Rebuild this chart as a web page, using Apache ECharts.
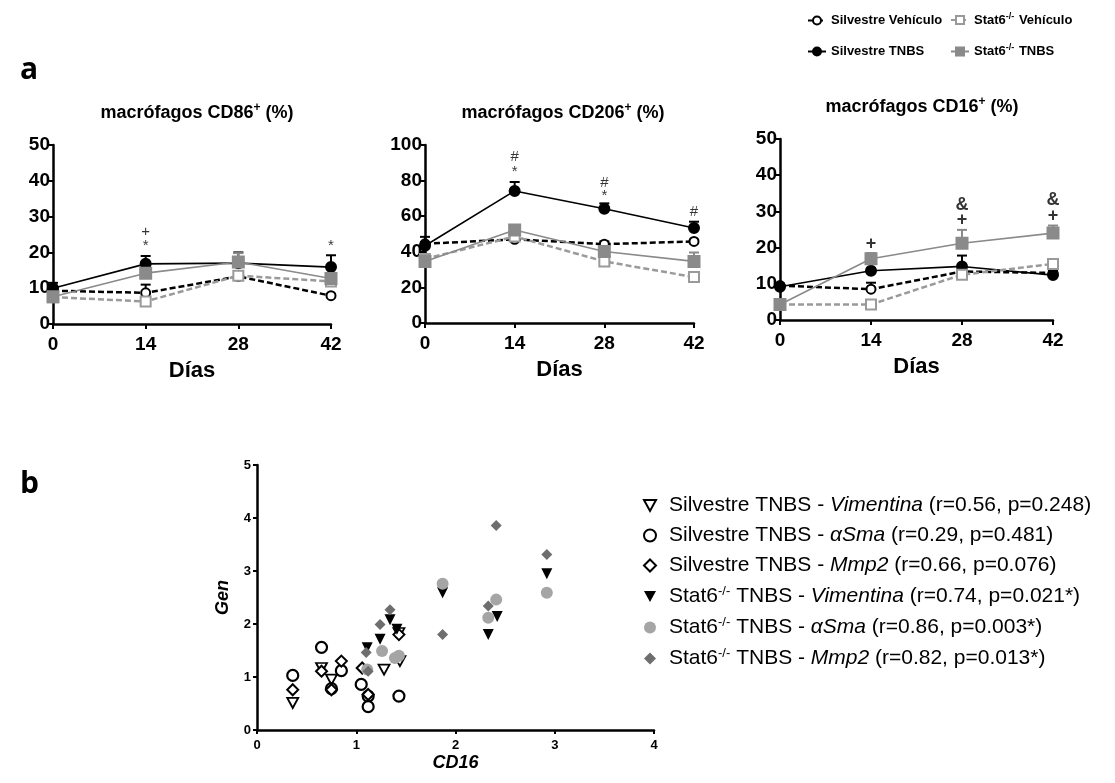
<!DOCTYPE html>
<html>
<head>
<meta charset="utf-8">
<script src="https://cdn.jsdelivr.net/npm/echarts@6/dist/echarts.min.js"></script>
<style>html,body{margin:0;padding:0;background:#fff;}#c{width:1115px;height:783px;}</style>
</head>
<body>
<div id="c"></div>
<script>
// ---------- DATA ----------
const days = [0, 14, 28, 42];
const xTicks = [0, 14, 28, 42];
const seriesNames = ['Silvestre Vehículo', 'Silvestre TNBS', 'Stat6 Vehículo', 'Stat6 TNBS'];

// Panel 1: CD86
const cd86_silvVeh = [9.3, 8.7, 13.3, 7.9];
const cd86_silvVeh_sem = [1.0, 2.3, 0.8, 0.5];
const cd86_silvTnbs = [10.0, 16.8, 17.0, 15.9];
const cd86_silvTnbs_sem = [1.5, 2.2, 3.0, 3.3];
const cd86_stat6Veh = [7.5, 6.3, 13.5, 11.9];
const cd86_stat6Veh_sem = [0.5, 0.5, 0.8, 1.0];
const cd86_stat6Tnbs = [7.6, 14.2, 17.3, 12.7];
const cd86_stat6Tnbs_sem = [1.0, 1.0, 2.5, 1.5];
const cd86_marks = [[14, 25.7, '+'], [14, 21.9, '*'], [42, 21.9, '*']];

// Panel 2: CD206
const cd206_silvVeh = [44.5, 47.0, 44.3, 45.8];
const cd206_silvVeh_sem = [1.0, 1.0, 1.5, 1.0];
const cd206_silvTnbs = [43.4, 74.2, 64.2, 53.4];
const cd206_silvTnbs_sem = [5.0, 5.0, 3.0, 3.5];
const cd206_stat6Veh = [36.0, 48.6, 34.6, 25.8];
const cd206_stat6Veh_sem = [1.5, 1.5, 1.0, 1.0];
const cd206_stat6Tnbs = [34.6, 52.3, 40.2, 34.6];
const cd206_stat6Tnbs_sem = [2.0, 2.0, 5.0, 5.0];
const cd206_marks = [[14, 93.4, '#'], [14, 85.0, '*'], [28, 78.5, '#'], [28, 71.4, '*'], [42, 62.6, '#']];

// Panel 3: CD16
const cd16_silvVeh = [9.5, 8.5, 13.4, 13.0];
const cd16_silvVeh_sem = [0.5, 1.8, 1.0, 0.5];
const cd16_silvTnbs = [9.2, 13.6, 14.8, 12.4];
const cd16_silvTnbs_sem = [0.8, 0.7, 3.0, 0.8];
const cd16_stat6Veh = [4.3, 4.3, 12.5, 15.5];
const cd16_stat6Veh_sem = [0.5, 0.5, 0.8, 0.8];
const cd16_stat6Tnbs = [4.3, 16.9, 21.2, 24.0];
const cd16_stat6Tnbs_sem = [0.6, 1.6, 3.7, 2.1];
const cd16_marks = [[14, 21.0, '+'], [28, 31.8, '&'], [28, 27.7, '+'], [42, 33.2, '&'], [42, 28.8, '+']];

// Panel b: scatter CD16 vs Gen
const scatterNames = ['wtVim', 'wtSma', 'wtMmp2', 'koVim', 'koSma', 'koMmp2'];
const wt_vim_x = [0.36, 0.65, 0.75, 1.28, 1.44, 1.43];
const wt_vim_y = [0.51, 1.17, 0.95, 1.14, 1.30, 1.83];
const wt_sma_x = [0.36, 0.65, 0.85, 0.75, 1.05, 1.12, 1.12, 1.43];
const wt_sma_y = [1.03, 1.56, 1.12, 0.78, 0.86, 0.64, 0.44, 0.64];
const wt_mmp2_x = [0.36, 0.65, 0.85, 0.75, 1.06, 1.12, 1.43];
const wt_mmp2_y = [0.76, 1.11, 1.30, 0.76, 1.17, 0.67, 1.80];
const ko_vim_x = [1.34, 1.41, 1.24, 1.11, 1.87, 2.42, 2.33, 2.92];
const ko_vim_y = [2.08, 1.90, 1.71, 1.55, 2.59, 2.14, 1.80, 2.95];
const ko_sma_x = [1.26, 1.39, 1.43, 1.11, 1.87, 2.41, 2.33, 2.92];
const ko_sma_y = [1.49, 1.36, 1.40, 1.14, 2.76, 2.46, 2.12, 2.59];
const ko_mmp2_x = [1.34, 1.24, 1.10, 1.12, 1.87, 2.41, 2.33, 2.92];
const ko_mmp2_y = [2.27, 1.99, 1.46, 1.11, 1.80, 3.86, 2.34, 3.31];

const scatterLabels = {
  wtVim: '{n|Silvestre TNBS - }{i|Vimentina}{n| (r=0.56, p=0.248)}',
  wtSma: '{n|Silvestre TNBS - }{i|αSma}{n| (r=0.29, p=0.481)}',
  wtMmp2: '{n|Silvestre TNBS - }{i|Mmp2}{n| (r=0.66, p=0.076)}',
  koVim: '{n|Stat6}{s|-/-}{n| TNBS - }{i|Vimentina}{n| (r=0.74, p=0.021*)}',
  koSma: '{n|Stat6}{s|-/-}{n| TNBS - }{i|αSma}{n| (r=0.86, p=0.003*)}',
  koMmp2: '{n|Stat6}{s|-/-}{n| TNBS - }{i|Mmp2}{n| (r=0.82, p=0.013*)}'
};

// ---------- BUILD ----------
const FONT = "'Liberation Sans', Arial, sans-serif";
const zip = (xs, ys) => xs.map((x, i) => [x, ys[i]]);

const styles = {
  'Silvestre Vehículo': {color: '#000', type: [6, 3], width: 2.5, symbol: 'circle', fill: '#fff', size: 9},
  'Silvestre TNBS': {color: '#000', type: 'solid', width: 1.6, symbol: 'circle', fill: '#000', size: 10},
  'Stat6 Vehículo': {color: '#9a9a9a', type: [6, 3], width: 2.5, symbol: 'rect', fill: '#fff', size: 10},
  'Stat6 TNBS': {color: '#8a8a8a', type: 'solid', width: 1.6, symbol: 'rect', fill: '#8a8a8a', size: 11}
};

const grids = [
  {left: 53, top: 145, width: 278, height: 179},
  {left: 425, top: 145, width: 269, height: 178},
  {left: 780, top: 139, width: 273, height: 181},
  {left: 257, top: 465, width: 397, height: 265}
];

const panels = [
  {max: 50, interval: 10, data: [cd86_silvVeh, cd86_silvTnbs, cd86_stat6Veh, cd86_stat6Tnbs],
   sem: [cd86_silvVeh_sem, cd86_silvTnbs_sem, cd86_stat6Veh_sem, cd86_stat6Tnbs_sem], marks: cd86_marks},
  {max: 100, interval: 20, data: [cd206_silvVeh, cd206_silvTnbs, cd206_stat6Veh, cd206_stat6Tnbs],
   sem: [cd206_silvVeh_sem, cd206_silvTnbs_sem, cd206_stat6Veh_sem, cd206_stat6Tnbs_sem], marks: cd206_marks},
  {max: 50, interval: 10, data: [cd16_silvVeh, cd16_silvTnbs, cd16_stat6Veh, cd16_stat6Tnbs],
   sem: [cd16_silvVeh_sem, cd16_silvTnbs_sem, cd16_stat6Veh_sem, cd16_stat6Tnbs_sem], marks: cd16_marks}
];

const axisLine = {show: true, lineStyle: {color: '#000', width: 2.5}};
const axisTick = {show: true, inside: false, length: 5, lineStyle: {color: '#000', width: 2}};

const xAxes = [], yAxes = [], series = [];
panels.forEach((p, gi) => {
  xAxes.push({
    type: 'value', gridIndex: gi, min: 0, max: 42, interval: 14,
    axisLine, axisTick, splitLine: {show: false},
    axisLabel: {color: '#000', fontFamily: FONT, fontWeight: 'bold', fontSize: 19, margin: 11},
    name: 'Días', nameLocation: 'middle', nameGap: 36,
    nameTextStyle: {color: '#000', fontFamily: FONT, fontWeight: 'bold', fontSize: 22}
  });
  yAxes.push({
    type: 'value', gridIndex: gi, min: 0, max: p.max, interval: p.interval,
    axisLine, axisTick, splitLine: {show: false},
    axisLabel: {color: '#000', fontFamily: FONT, fontWeight: 'bold', fontSize: 19, margin: 3}
  });
  seriesNames.forEach((nm, si) => {
    const st = styles[nm];
    series.push({
      type: 'custom', xAxisIndex: gi, yAxisIndex: gi, z: 1, silent: true,
      data: days.map((d, i) => [d, p.data[si][i], p.sem[si][i]]),
      renderItem: (params, api) => {
        const x = api.value(0), m = api.value(1), s = api.value(2);
        const p0 = api.coord([x, m]), p1 = api.coord([x, m + s]);
        return {type: 'group', children: [
          {type: 'line', shape: {x1: p0[0], y1: p0[1], x2: p1[0], y2: p1[1]}, style: {stroke: st.color, lineWidth: 2}},
          {type: 'line', shape: {x1: p1[0] - 5, y1: p1[1], x2: p1[0] + 5, y2: p1[1]}, style: {stroke: st.color, lineWidth: 2}}
        ]};
      }
    });
    series.push({
      name: nm, type: 'line', xAxisIndex: gi, yAxisIndex: gi, z: 3, clip: false,
      data: zip(days, p.data[si]),
      symbol: st.symbol, symbolSize: st.size, showSymbol: true,
      lineStyle: {color: st.color, width: st.width, type: st.type},
      itemStyle: {color: st.fill, borderColor: st.color, borderWidth: 2}
    });
  });
  series.push({
    type: 'scatter', xAxisIndex: gi, yAxisIndex: gi, symbolSize: 0, silent: true, z: 5,
    data: p.marks.map(m => ({value: [m[0], m[1]], text: m[2]})),
    label: {show: true, position: 'inside', color: '#000', fontFamily: FONT,
      fontSize: gi === 2 ? 18 : 15, fontWeight: gi === 2 ? 'bold' : 'normal',
      formatter: prm => prm.data.text}
  });
});

// scatter axes
xAxes.push({
  type: 'value', gridIndex: 3, min: 0, max: 4, interval: 1,
  axisLine, axisTick: {show: true, length: 4, lineStyle: {color: '#000', width: 2}}, splitLine: {show: false},
  axisLabel: {color: '#000', fontFamily: FONT, fontWeight: 'bold', fontSize: 13, margin: 9},
  name: 'CD16', nameLocation: 'middle', nameGap: 24,
  nameTextStyle: {color: '#000', fontFamily: FONT, fontWeight: 'bold', fontStyle: 'italic', fontSize: 18}
});
yAxes.push({
  type: 'value', gridIndex: 3, min: 0, max: 5, interval: 1,
  axisLine, axisTick: {show: true, length: 4, lineStyle: {color: '#000', width: 2}}, splitLine: {show: false},
  axisLabel: {color: '#000', fontFamily: FONT, fontWeight: 'bold', fontSize: 13, margin: 6},
  name: 'Gen', nameLocation: 'middle', nameGap: 25, nameRotate: 90,
  nameTextStyle: {color: '#000', fontFamily: FONT, fontWeight: 'bold', fontStyle: 'italic', fontSize: 18}
});

const downTri = 'path://M0,0L10,0L5,9Z';
const scatterDefs = [
  {name: 'wtVim', xs: wt_vim_x, ys: wt_vim_y, symbol: downTri, size: [11, 10], fill: '#fff', border: '#000', bw: 1.8},
  {name: 'wtSma', xs: wt_sma_x, ys: wt_sma_y, symbol: 'circle', size: 11, fill: '#fff', border: '#000', bw: 2.2},
  {name: 'wtMmp2', xs: wt_mmp2_x, ys: wt_mmp2_y, symbol: 'diamond', size: 11, fill: '#fff', border: '#000', bw: 2},
  {name: 'koVim', xs: ko_vim_x, ys: ko_vim_y, symbol: downTri, size: [11, 11], fill: '#000', border: '#000', bw: 0},
  {name: 'koSma', xs: ko_sma_x, ys: ko_sma_y, symbol: 'circle', size: 12, fill: '#a5a5a5', border: '#a5a5a5', bw: 0},
  {name: 'koMmp2', xs: ko_mmp2_x, ys: ko_mmp2_y, symbol: 'diamond', size: 11, fill: '#6e6e6e', border: '#6e6e6e', bw: 0}
];
scatterDefs.forEach(d => {
  series.push({
    name: d.name, type: 'scatter', xAxisIndex: 3, yAxisIndex: 3, clip: false,
    data: zip(d.xs, d.ys), symbol: d.symbol, symbolSize: d.size,
    itemStyle: {color: d.fill, borderColor: d.border, borderWidth: d.bw, opacity: 1}
  });
});

const topLegendText = {
  fontFamily: FONT, fontWeight: 'bold', fontSize: 13, color: '#000',
  rich: {
    n: {fontFamily: FONT, fontWeight: 'bold', fontSize: 13, color: '#000'},
    s: {fontFamily: FONT, fontWeight: 'bold', fontSize: 9, color: '#000', verticalAlign: 'top', padding: [0, 1, 7, 0]}
  }
};
const titleRich = {
  t: {fontFamily: FONT, fontWeight: 'bold', fontSize: 18, color: '#000'},
  p: {fontFamily: FONT, fontWeight: 'bold', fontSize: 12, color: '#000', verticalAlign: 'top', padding: [0, 0, 10, 0]}
};

const option = {
  animation: false,
  backgroundColor: '#fff',
  title: [
    {text: 'a', left: 15, top: 50, textStyle: {fontFamily: "'Open Sans', sans-serif", fontWeight: 'bold', fontSize: 30, color: '#000'}},
    {text: 'b', left: 15, top: 464, textStyle: {fontFamily: "'Open Sans', sans-serif", fontWeight: 'bold', fontSize: 30, color: '#000'}},
    {text: '{t|macrófagos CD86}{p|+}{t| (%)}', left: 192, top: 97, textAlign: 'center', textStyle: {rich: titleRich}},
    {text: '{t|macrófagos CD206}{p|+}{t| (%)}', left: 558, top: 97, textAlign: 'center', textStyle: {rich: titleRich}},
    {text: '{t|macrófagos CD16}{p|+}{t| (%)}', left: 917, top: 91, textAlign: 'center', textStyle: {rich: titleRich}}
  ],
  legend: [
    {orient: 'vertical', left: 802, top: 9, itemGap: 18, itemWidth: 18, itemHeight: 10,
     data: ['Silvestre Vehículo', 'Silvestre TNBS'], selectedMode: false,
     textStyle: topLegendText, formatter: n => '{n|' + n + '}'},
    {orient: 'vertical', left: 945, top: 7, itemGap: 17, itemWidth: 18, itemHeight: 10,
     data: ['Stat6 Vehículo', 'Stat6 TNBS'], selectedMode: false,
     textStyle: topLegendText, formatter: n => n.replace('Stat6 ', '{n|Stat6}{s|-/-}{n| ') + '}'},
    {orient: 'vertical', left: 638, top: 490, itemGap: 9, itemWidth: 12, itemHeight: 12,
     data: scatterNames, selectedMode: false,
     formatter: n => scatterLabels[n],
     textStyle: {fontFamily: FONT, fontSize: 21, color: '#000', padding: [0, 0, 0, 8],
       rich: {
         n: {fontFamily: FONT, fontSize: 21, color: '#000'},
         i: {fontFamily: FONT, fontSize: 21, fontStyle: 'italic', color: '#000'},
         s: {fontFamily: FONT, fontSize: 13, color: '#000', verticalAlign: 'top', padding: [0, 0, 10, 0]}
       }}}
  ],
  grid: grids,
  xAxis: xAxes,
  yAxis: yAxes,
  series: series
};

const chart = echarts.init(document.getElementById('c'), null, {renderer: 'canvas'});
chart.setOption(option);
</script>
</body>
</html>
